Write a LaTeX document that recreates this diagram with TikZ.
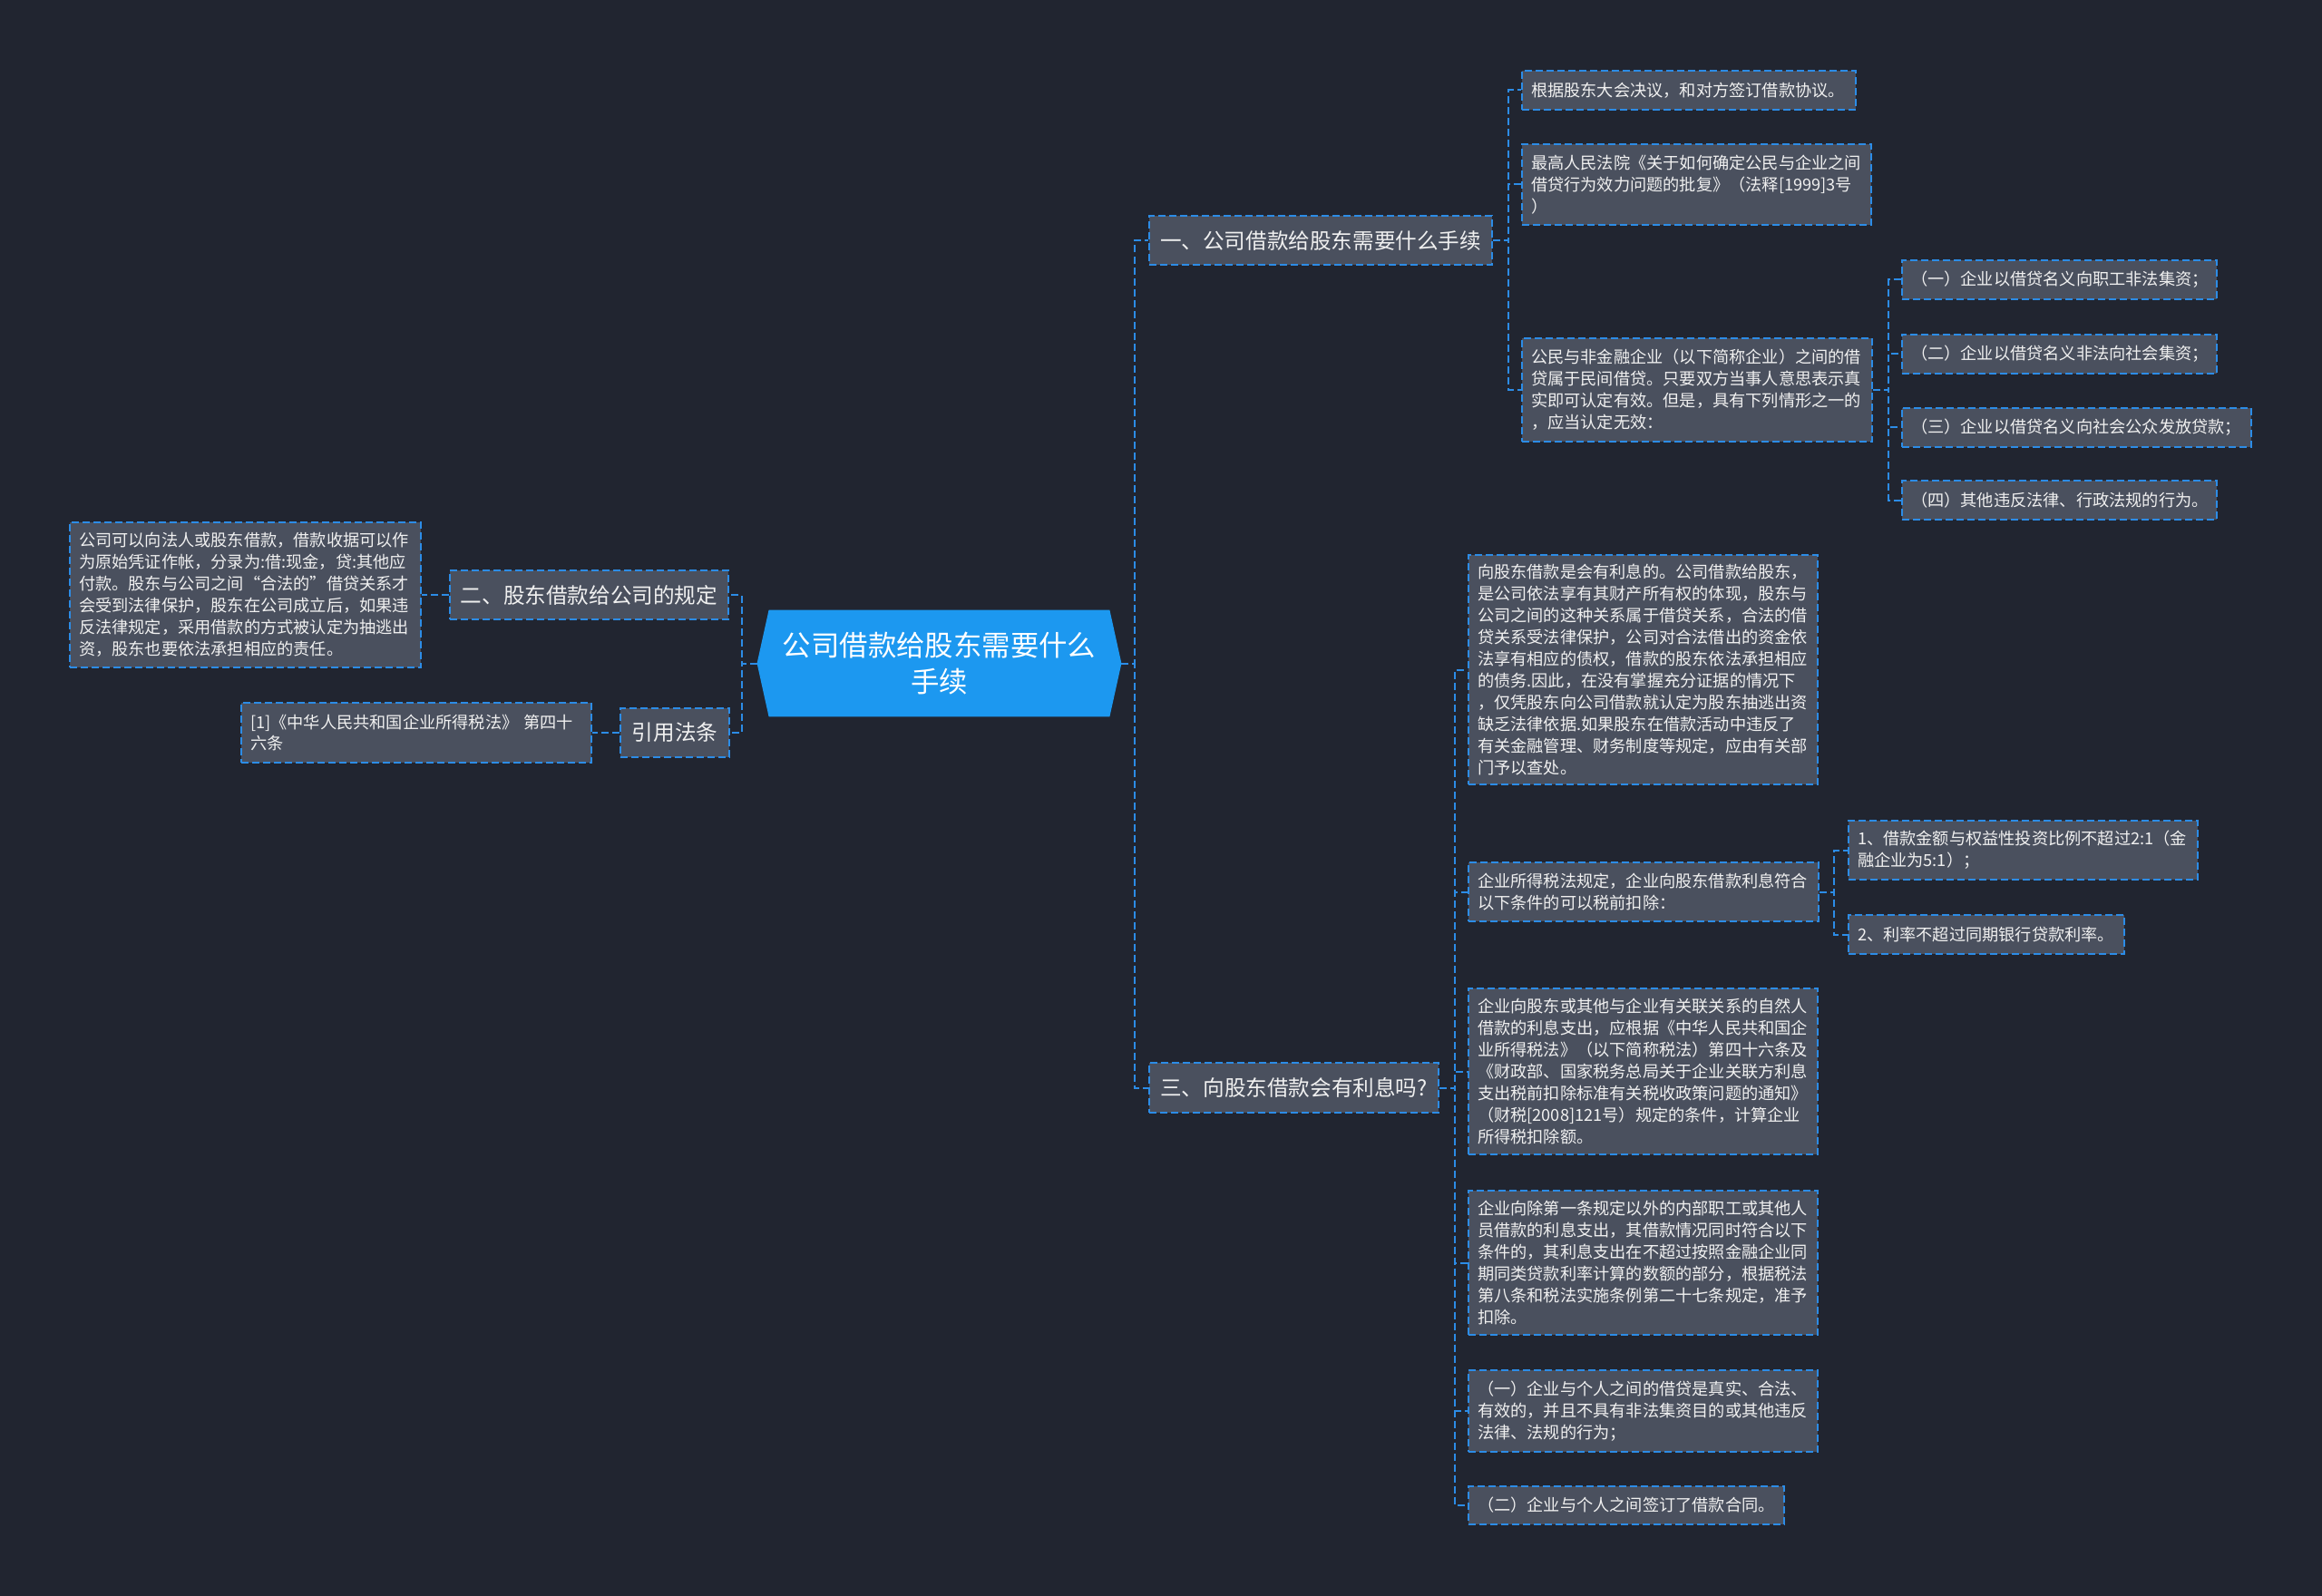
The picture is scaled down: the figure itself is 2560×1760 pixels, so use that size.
\documentclass[tikz,border=0pt]{standalone}
\usepackage{fontspec}
\setmainfont{Noto Sans CJK SC}
\usetikzlibrary{backgrounds}
\definecolor{bgc}{RGB}{33,37,48}
\definecolor{boxc}{RGB}{74,80,94}
\definecolor{linec}{RGB}{44,140,230}
\definecolor{rootc}{RGB}{28,152,240}
\definecolor{txtc}{RGB}{240,240,240}
\tikzset{
  conn/.style={draw=linec, line width=1pt, dash pattern=on 4pt off 2pt},
  boxbase/.style={draw=linec, line width=1pt, dash pattern=on 4pt off 2pt, fill=boxc, text=txtc, inner ysep=2pt},
  leaf/.style={boxbase, font=\fontsize{9.1}{11.95}\selectfont, align=left, inner xsep=5pt},
  lvone/.style={boxbase, font=\fontsize{11.8}{14}\selectfont, inner xsep=0pt, align=center},
  rootnode/.style={text=white, font=\fontsize{15.7}{20}\selectfont, align=center, inner sep=0pt},
}
\begin{document}
\begin{tikzpicture}[x=0.5pt,y=-0.5pt]
\begin{scope}[on background layer]
  \fill[bgc] (0,0) rectangle (2560,1760);
\end{scope}
\useasboundingbox (0,0) rectangle (2560,1760);

% root
\node[rootnode, minimum width=200.5pt, minimum height=58.5pt] (root) at (1035.5,731.5) {公司借款给股东需要什么\\手续};
\begin{scope}[on background layer]
  \fill[rootc] (root.west) -- ([xshift=6.5pt]root.north west) -- ([xshift=-6.5pt]root.north east) -- (root.east) -- ([xshift=-6.5pt]root.south east) -- ([xshift=6.5pt]root.south west) -- cycle;
\end{scope}

% level one
\node[lvone, minimum width=189pt, minimum height=27pt] (n1) at (1456,265) {一、公司借款给股东需要什么手续};
\node[lvone, minimum width=159.5pt, minimum height=27.5pt] (n3) at (1426.5,1199.5) {三、向股东借款会有利息吗?};
\node[lvone, minimum width=153.5pt, minimum height=27pt] (n2) at (649.5,656) {二、股东借款给公司的规定};
\node[lvone, minimum width=60pt, minimum height=27pt] (n4) at (744,808) {引用法条};

% left leaves
\node[leaf, text width=183.5pt, minimum height=80pt] (lt) at (270.5,656) {公司可以向法人或股东借款，借款收据可以作\\为原始凭证作帐，分录为:借:现金，贷:其他应\\付款。股东与公司之间“合法的”借贷关系才\\会受到法律保护，股东在公司成立后，如果违\\反法律规定，采用借款的方式被认定为抽逃出\\资，股东也要依法承担相应的责任。};
\node[leaf, text width=183pt, minimum height=33pt] (ref) at (459,808) {[1]《中华人民共和国企业所得税法》 第四十\\六条};

% children of n1
\node[leaf, text width=174pt, minimum height=21.5pt] (b1) at (1862,99.5) {根据股东大会决议，和对方签订借款协议。};
\node[leaf, text width=182.5pt, minimum height=44.5pt] (b2) at (1870.5,203.5) {最高人民法院《关于如何确定公民与企业之间\\借贷行为效力问题的批复》（法释[1999]3号\\）};
\node[leaf, text width=183pt, minimum height=57pt] (b3) at (1871,430) {公民与非金融企业（以下简称企业）之间的借\\贷属于民间借贷。只要双方当事人意思表示真\\实即可认定有效。但是，具有下列情形之一的\\，应当认定无效：};

\node[leaf, text width=163.5pt, minimum height=21.5pt] (c1) at (2270.5,308.5) {（一）企业以借贷名义向职工非法集资；};
\node[leaf, text width=163.5pt, minimum height=21.5pt] (c2) at (2270.5,390) {（二）企业以借贷名义非法向社会集资；};
\node[leaf, text width=182.5pt, minimum height=21.5pt] (c3) at (2289.5,471) {（三）企业以借贷名义向社会公众发放贷款；};
\node[leaf, text width=163.5pt, minimum height=21.5pt] (c4) at (2270.5,551.5) {（四）其他违反法律、行政法规的行为。};

% children of n3
\node[leaf, text width=182.5pt, minimum height=126.5pt] (ca) at (1811.5,738.5) {向股东借款是会有利息的。公司借款给股东，\\是公司依法享有其财产所有权的体现，股东与\\公司之间的这种关系属于借贷关系，合法的借\\贷关系受法律保护，公司对合法借出的资金依\\法享有相应的债权，借款的股东依法承担相应\\的债务.因此，在没有掌握充分证据的情况下\\，仅凭股东向公司借款就认定为股东抽逃出资\\缺乏法律依据.如果股东在借款活动中违反了\\有关金融管理、财务制度等规定，应由有关部\\门予以查处。};
\node[leaf, text width=183pt, minimum height=32.5pt] (cb) at (1812,983.5) {企业所得税法规定，企业向股东借款利息符合\\以下条件的可以税前扣除：};
\node[leaf, text width=182.5pt, minimum height=32.5pt] (cb1) at (2230.5,937.5) {1、借款金额与权益性投资比例不超过2:1（金\\融企业为5:1）；};
\node[leaf, text width=142pt, minimum height=21.5pt] (cb2) at (2190,1030.5) {2、利率不超过同期银行贷款利率。};
\node[leaf, text width=182.5pt, minimum height=91.5pt] (cc) at (1811.5,1181.5) {企业向股东或其他与企业有关联关系的自然人\\借款的利息支出，应根据《中华人民共和国企\\业所得税法》（以下简称税法）第四十六条及\\《财政部、国家税务总局关于企业关联方利息\\支出税前扣除标准有关税收政策问题的通知》\\（财税[2008]121号）规定的条件，计算企业\\所得税扣除额。};
\node[leaf, text width=182.5pt, minimum height=79.5pt] (cd) at (1811.5,1392.5) {企业向除第一条规定以外的内部职工或其他人\\员借款的利息支出，其借款情况同时符合以下\\条件的，其利息支出在不超过按照金融企业同\\期同类贷款利率计算的数额的部分，根据税法\\第八条和税法实施条例第二十七条规定，准予\\扣除。};
\node[leaf, text width=182.5pt, minimum height=45pt] (ce) at (1811.5,1556) {（一）企业与个人之间的借贷是真实、合法、\\有效的，并且不具有非法集资目的或其他违反\\法律、法规的行为；};
\node[leaf, text width=164pt, minimum height=21pt] (cf) at (1793,1660) {（二）企业与个人之间签订了借款合同。};

% connectors
\draw[conn] (root.east) -- ++(15,0) |- (n1.west);
\draw[conn] (root.east) -- ++(15,0) |- (n3.west);
\draw[conn] (root.west) -- ++(-17,0) |- (n2.east);
\draw[conn] (root.west) -- ++(-17,0) |- (n4.east);
\draw[conn] (n2.west) -- (lt.east);
\draw[conn] (n4.west) -- (ref.east);
\foreach \c in {b1,b2,b3} \draw[conn] (n1.east) -- ++(17,0) |- (\c.west);
\foreach \c in {c1,c2,c3,c4} \draw[conn] (b3.east) -- ++(17,0) |- (\c.west);
\foreach \c in {ca,cb,cc,cd,ce,cf} \draw[conn] (n3.east) -- ++(17,0) |- (\c.west);
\foreach \c in {cb1,cb2} \draw[conn] (cb.east) -- ++(16,0) |- (\c.west);
\end{tikzpicture}
\end{document}
